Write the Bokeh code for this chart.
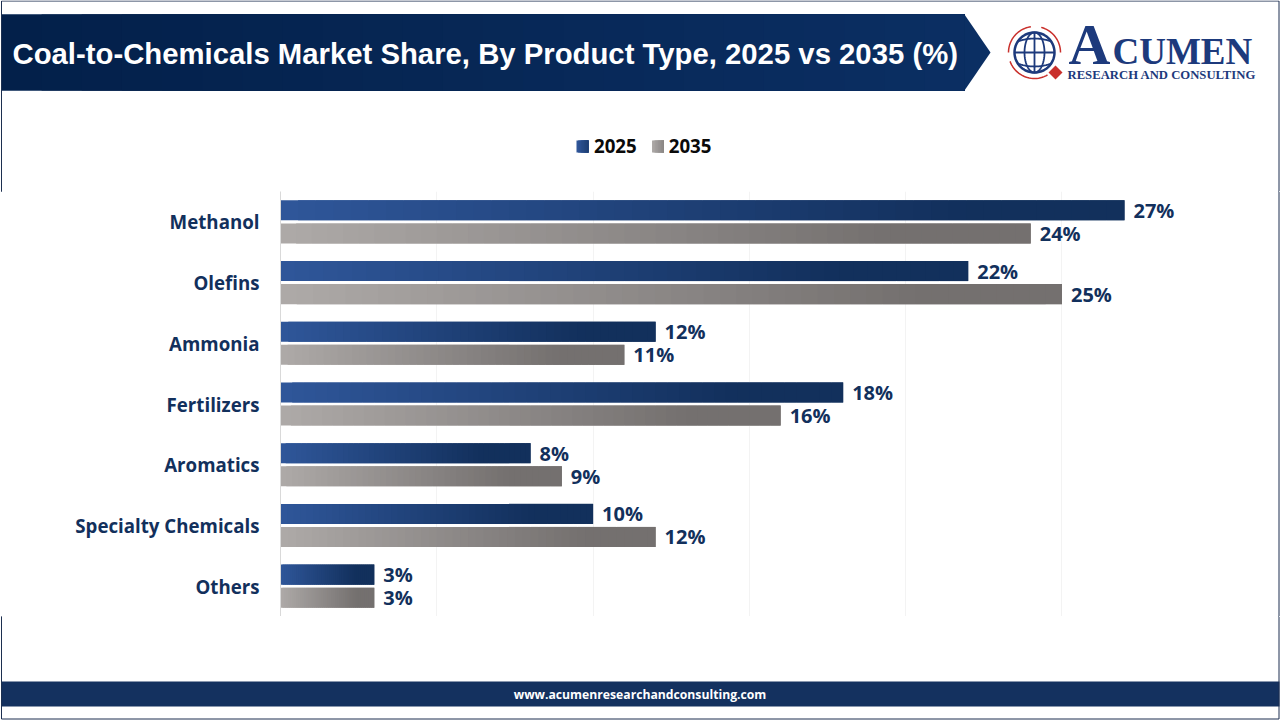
import math
from bokeh.core.properties import value
from bokeh.embed import file_html
from bokeh.layouts import column
from bokeh.models import (ColumnDataSource, FactorRange, FixedTicker, LabelSet,
                          Legend, LegendItem, Range1d, Span)
from bokeh.plotting import figure
from bokeh.resources import INLINE
from bokeh.transform import dodge

# ---- data -------------------------------------------------------------
categories = ["Methanol", "Olefins", "Ammonia", "Fertilizers", "Aromatics", "Specialty Chemicals", "Others"]
values_2025 = [27, 22, 12, 18, 8, 10, 3]
values_2035 = [24, 25, 11, 16, 9, 12, 3]
series_names = ["2025", "2035"]
title_text = "Coal-to-Chemicals Market Share, By Product Type, 2025 vs 2035 (%)"
footer_text = "www.acumenresearchandconsulting.com"
grid_ticks = [5, 10, 15, 20, 25]

# ---- geometry (window pixels) ------------------------------------------
W, H = 1280, 720
FRAME_L, FRAME_R, FRAME_T, FRAME_B = 280, 1280, 191, 616
PX_PER_UNIT = 844 / 27
NAVY, GRAY_TXT, BORDER = "#12305c", "#0a0a0a", "#1c2f50"
BLUE_STOPS = ((0x2f, 0x56, 0x99), (0x12, 0x30, 0x5c))
GRAY_STOPS = ((0xad, 0xa9, 0xa7), (0x74, 0x70, 0x6f))
N_STEPS, GRAD_END = 48, 0.8


def blend(stops, t):
    t = min(t / GRAD_END, 1.0)
    return "#%02x%02x%02x" % tuple(round(a + (b - a) * t) for a, b in zip(*stops))


def pixel_figure(y0, y1):
    """A figure whose data coordinates are the window's pixels."""
    f = figure(width=W, height=y1 - y0, output_backend="svg", toolbar_location=None,
               x_range=Range1d(0, W), y_range=Range1d(y1, y0), min_border=0, frame_align=False,
               background_fill_color="white", border_fill_color="white")
    f.axis.visible = False
    f.grid.visible = False
    f.outline_line_color = None
    return f


# ---- chart -------------------------------------------------------------
p = figure(width=W, height=FRAME_B - FRAME_T, output_backend="svg", toolbar_location=None,
           x_range=Range1d(0, (FRAME_R - FRAME_L) / PX_PER_UNIT),
           y_range=FactorRange(factors=categories[::-1], factor_padding=0, range_padding=0),
           min_border_left=FRAME_L, min_border_right=0, frame_align=False,
           min_border_top=0, min_border_bottom=0,
           background_fill_color="white", border_fill_color="white")
p.outline_line_color = None
p.xaxis.visible = False
p.xgrid.ticker = FixedTicker(ticks=grid_ticks)
p.xgrid.grid_line_color = "#f3f3f3"
p.ygrid.visible = False
ax = p.yaxis[0]
ax.axis_line_color = "#d9d9d9"
ax.major_tick_line_color = None
ax.minor_tick_line_color = None
ax.major_label_standoff = 15
ax.major_label_text_font = "Open Sans"
ax.major_label_text_font_style = "bold"
ax.major_label_text_font_size = "18.7px"
ax.major_label_text_color = NAVY
p.add_layout(Span(location=(1278.5 - FRAME_L) / PX_PER_UNIT, dimension="height",
                  line_color=BORDER, line_width=1))

OFFSET, BAR_H = 0.19, 0.33
for name, vals, stops, off in ((series_names[0], values_2025, BLUE_STOPS, OFFSET),
                               (series_names[1], values_2035, GRAY_STOPS, -OFFSET)):
    y_dodge = dodge("cat", off, range=p.y_range)
    # horizontal gradient: adjacent slices of each bar, overlapping by one step to avoid seams
    for i in range(N_STEPS):
        t = i / N_STEPS
        src = ColumnDataSource(dict(cat=categories,
                                    l=[v * t for v in vals],
                                    r=[v * min(1, (i + 2) / N_STEPS) for v in vals]))
        p.hbar(y=y_dodge, left="l", right="r", height=BAR_H, source=src,
               fill_color=blend(stops, t), line_color=None)
    labels = ColumnDataSource(dict(cat=categories, val=vals, txt=[f"{v}%" for v in vals]))
    p.add_layout(LabelSet(x="val", y=y_dodge, text="txt", source=labels, x_offset=9,
                          text_font=value("Open Sans"), text_font_style="bold", text_font_size="20px",
                          text_color=NAVY, text_baseline="middle", text_align="left"))

# ---- header ------------------------------------------------------------
head = pixel_figure(0, FRAME_T)
HDR_L, HDR_T, HDR_B, HDR_R, TIP = 1, 14, 90, 964, 990
head.patch([HDR_L, HDR_R, TIP, HDR_R, HDR_L], [HDR_T, HDR_T, (HDR_T + HDR_B) / 2, HDR_B, HDR_B],
           fill_color="#0b2f63", line_color=None)
HDR_STEPS = 24
for i in range(HDR_STEPS):
    t = i / HDR_STEPS
    c = "#%02x%02x%02x" % (round(3 + 8 * t), round(32 + 15 * t), round(74 + 25 * t))
    x0 = HDR_L + (HDR_R - HDR_L) * t
    head.quad(left=x0, right=HDR_R, top=HDR_T, bottom=HDR_B, fill_color=c, line_color=None)
head.text([12], [53], text=[title_text], text_font=value("Liberation Sans"), text_font_style="bold",
          text_font_size="29.3px", text_color="white", text_baseline="middle")
head.line([1, 1, 1278.5, 1278.5], [FRAME_T, 0.5, 0.5, FRAME_T], line_color=BORDER, line_width=1)

# legend: gradient swatches under the legend's own (transparent) glyphs
LEG_X, LEG_GAP, LEG_TOP, LEG_SIZE, SW_STEPS = 576, 75.5, 140, 12, 8
swatches = []
for k, stops in enumerate((BLUE_STOPS, GRAY_STOPS)):
    x_left = LEG_X + k * LEG_GAP
    for i in range(SW_STEPS):
        head.quad(left=x_left + LEG_SIZE * i / SW_STEPS, right=x_left + LEG_SIZE,
                  top=LEG_TOP, bottom=LEG_TOP + LEG_SIZE,
                  fill_color=blend(stops, 0.55 * i / SW_STEPS), line_color=None)
    swatches.append(head.quad(left=[-20], right=[-10], top=[-20], bottom=[-10], fill_alpha=0, line_color=None))
legend = Legend(items=[LegendItem(label=n, renderers=[r]) for n, r in zip(series_names, swatches)],
                orientation="horizontal", location=(LEG_X, FRAME_T - 158), glyph_width=11, glyph_height=11,
                label_standoff=7, spacing=14, padding=0, margin=0,
                border_line_color=None, background_fill_alpha=0,
                label_text_font="Open Sans", label_text_font_style="bold",
                label_text_font_size="18.7px", label_text_color=GRAY_TXT)
head.add_layout(legend)

# logo
LOGO_BLUE, LOGO_RED = "#1d3a7c", "#c9302c"
GX, GY, GR = 1034, 52, 20


def ellipse(rx, ry, a0=0, a1=360, n=60):
    angles = [math.radians(a0 + (a1 - a0) * k / n) for k in range(n + 1)]
    return [GX + rx * math.cos(a) for a in angles], [GY + ry * math.sin(a) for a in angles]


head.line(*ellipse(GR, GR), line_color=LOGO_BLUE, line_width=2.5)
head.line(*ellipse(GR * 0.5, GR), line_color=LOGO_BLUE, line_width=1.8)
head.line([GX, GX], [GY - GR, GY + GR], line_color=LOGO_BLUE, line_width=1.8)
head.line([GX - GR, GX + GR], [GY, GY], line_color=LOGO_BLUE, line_width=1.8)
for dy, bulge in ((-11, -3), (11, 3)):
    half = math.sqrt(GR ** 2 - dy ** 2)
    xs = [GX - half + 2 * half * k / 20 for k in range(21)]
    ys = [GY + dy + bulge * (1 - ((k - 10) / 10) ** 2) for k in range(21)]
    head.line(xs, ys, line_color=LOGO_BLUE, line_width=1.8)
for a0, a1 in ((180, 262), (285, 360), (60, 160)):
    head.line(*ellipse(GR + 6, GR + 6, a0, a1, 24), line_color=LOGO_RED, line_width=1.5)
head.patch([1055, 1062, 1055, 1048], [65, 72, 79, 72], fill_color=LOGO_RED, line_color=None)
head.text([1068], [44], text=["A"], text_font=value("Liberation Serif"), text_font_style="bold",
          text_font_size="58px", text_color=LOGO_BLUE, text_baseline="middle")
head.text([1112], [50.5], text=["CUMEN"], text_font=value("Liberation Serif"), text_font_style="bold",
          text_font_size="37px", text_color=LOGO_BLUE, text_baseline="middle")
head.text([1067], [74], text=["RESEARCH AND CONSULTING"], text_font=value("Liberation Serif"),
          text_font_style="bold", text_font_size="12.7px", text_color=LOGO_BLUE, text_baseline="middle")

# ---- footer ------------------------------------------------------------
foot = pixel_figure(FRAME_B, H)
foot.quad(left=1, right=1279, top=681, bottom=706, fill_color="#14315f", line_color=None)
foot.text([639.5], [693.5], text=[footer_text], text_font=value("Open Sans"), text_font_style="bold",
          text_font_size="12.2px", text_color="white", text_align="center", text_baseline="middle")
foot.line([1, 1, 1278.5, 1278.5], [FRAME_B, 718.5, 718.5, FRAME_B], line_color=BORDER, line_width=1)

page = column(head, p, foot, spacing=0, width=W, height=H,
              styles={"outline": "1px solid #1c2f50", "outline-offset": "-2px"})
open("out.html", "w").write(file_html(page, INLINE))
